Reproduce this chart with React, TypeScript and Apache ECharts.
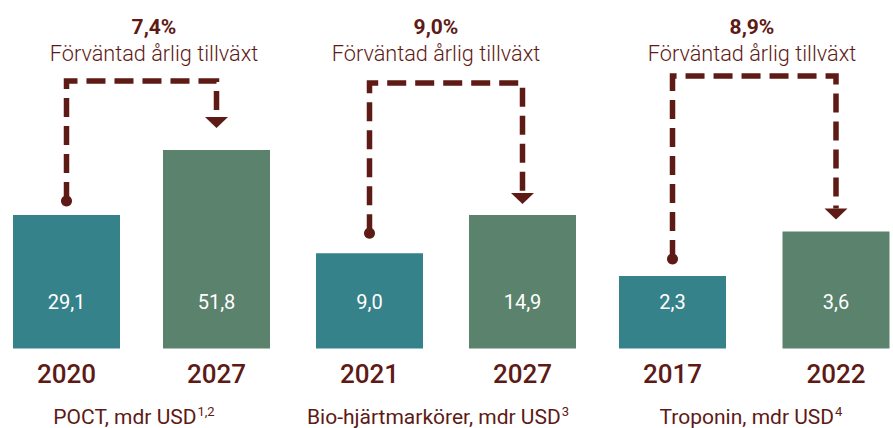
import React, { useEffect, useRef } from "react";
import * as echarts from "echarts";

// ---- Data ----
const groupTitles = ["POCT, mdr USD", "Bio-hjärtmarkörer, mdr USD", "Troponin, mdr USD"];
const footnotes = ["1,2", "3", "4"];
const startYears = ["2020", "2021", "2017"];
const endYears = ["2027", "2027", "2022"];
const startValues = [29.1, 9.0, 2.3];
const endValues = [51.8, 14.9, 3.6];
const growthRates = ["7,4%", "9,0%", "8,9%"];
const growthLabel = "Förväntad årlig tillväxt";

// ---- Layout / style ----
const W = 893;
const H = 428;
const TEAL = "#35828A";
const GREEN = "#5B826C";
const DARK = "#5E1A15";
const FONT = "Roboto";
// grid spans from first bar centre to second bar centre (boundaryGap false)
const gridLefts = [66.5, 369.5, 672.5];
const gridWidths = [150, 153, 163.5];
const gridTop = 100;
const gridHeight = 248.5;
// per-group axis extent (each panel has its own scale)
const axisMins = [-17.52, -5.664, 0.1725];
const axisMaxs = [69.27, 32.61, 7.46];
const lineTopYs = [81, 83, 76];
const dotGaps = [14, 20, 17];
const arrowGaps = [22, 11, 12];
const textCenters = [154, 436, 752];
const subtitleCenters = [134, 438, 751];

const fmt = (v: number) => v.toFixed(1).replace(".", ",");

export default function App() {
  const ref = useRef<HTMLDivElement>(null);
  useEffect(() => {
    if (!ref.current) return;
    const chart = echarts.init(ref.current, undefined, { renderer: "svg" });
    const grids = gridLefts.map((l, i) => ({
      left: l,
      width: gridWidths[i],
      top: gridTop,
      height: gridHeight,
      containLabel: false,
    }));
    const xAxes = gridLefts.map((_, i) => ({
      type: "category",
      gridIndex: i,
      boundaryGap: false,
      data: [startYears[i], endYears[i]],
      axisLine: { show: false },
      axisTick: { show: false },
      axisLabel: {
        color: DARK,
        fontFamily: FONT,
        fontSize: 26,
        fontWeight: 500,
        margin: 12,
      },
    }));
    const yAxes = gridLefts.map((_, i) => ({
      type: "value",
      gridIndex: i,
      min: axisMins[i],
      max: axisMaxs[i],
      startValue: axisMins[i],
      show: false,
      splitLine: { show: false },
    }));
    const series = gridLefts.map((_, i) => ({
      type: "bar",
      xAxisIndex: i,
      yAxisIndex: i,
      barWidth: 107,
      clip: false,
      data: [
        { value: startValues[i], itemStyle: { color: TEAL } },
        { value: endValues[i], itemStyle: { color: GREEN } },
      ],
      label: {
        show: true,
        position: "insideBottom",
        distance: 37,
        color: "#ffffff",
        fontFamily: FONT,
        fontSize: 20,
        formatter: (p: any) => fmt(p.value),
      },
    }));
    chart.setOption({
      animation: false,
      backgroundColor: "#ffffff",
      grid: grids,
      xAxis: xAxes,
      yAxis: yAxes,
      series,
    });

    const graphics: any[] = [];
    for (let i = 0; i < 3; i++) {
      const p1 = chart.convertToPixel({ seriesIndex: i }, [0, startValues[i]]) as number[];
      const p2 = chart.convertToPixel({ seriesIndex: i }, [1, endValues[i]]) as number[];
      const x1 = p1[0];
      const x2 = p2[0];
      const dotY = p1[1] - dotGaps[i];
      const tipY = p2[1] - arrowGaps[i];
      const headTop = tipY - 11;
      const topY = lineTopYs[i];
      graphics.push({
        type: "polyline",
        shape: { points: [[x1, dotY], [x1, topY], [x2, topY], [x2, headTop]] },
        style: { stroke: DARK, lineWidth: 5.5, lineDash: [19, 9], fill: null },
      });
      graphics.push({
        type: "circle",
        shape: { cx: x1, cy: dotY, r: 5.5 },
        style: { fill: DARK },
      });
      graphics.push({
        type: "polygon",
        shape: { points: [[x2 - 11.5, headTop], [x2 + 11.5, headTop], [x2, tipY]] },
        style: { fill: DARK },
      });
      graphics.push({
        type: "text",
        x: textCenters[i],
        y: 27,
        style: {
          text: growthRates[i],
          fill: DARK,
          fontFamily: FONT,
          fontSize: 21,
          fontWeight: "bold",
          align: "center",
          verticalAlign: "middle",
        },
      });
      graphics.push({
        type: "text",
        x: textCenters[i],
        y: 53,
        style: {
          text: growthLabel,
          fill: DARK,
          fontFamily: FONT,
          fontSize: 21.7,
          fontWeight: 300,
          align: "center",
          verticalAlign: "middle",
        },
      });
      graphics.push({
        type: "text",
        x: subtitleCenters[i],
        y: 416,
        style: {
          text: `{t|${groupTitles[i]}}{s|${footnotes[i]}}`,
          fill: DARK,
          align: "center",
          verticalAlign: "middle",
          rich: {
            t: { fontFamily: FONT, fontSize: 21, fill: DARK, lineHeight: 22, verticalAlign: "bottom" },
            s: { fontFamily: FONT, fontSize: 13, fill: DARK, lineHeight: 10, verticalAlign: "top", padding: [0, 0, 0, 1] },
          },
        },
      });
    }
    chart.setOption({ graphic: graphics });
    return () => chart.dispose();
  }, []);
  return (
    <div
      ref={ref}
      style={{ position: "fixed", left: 0, top: 0, width: W, height: H, background: "#fff" }}
    />
  );
}
